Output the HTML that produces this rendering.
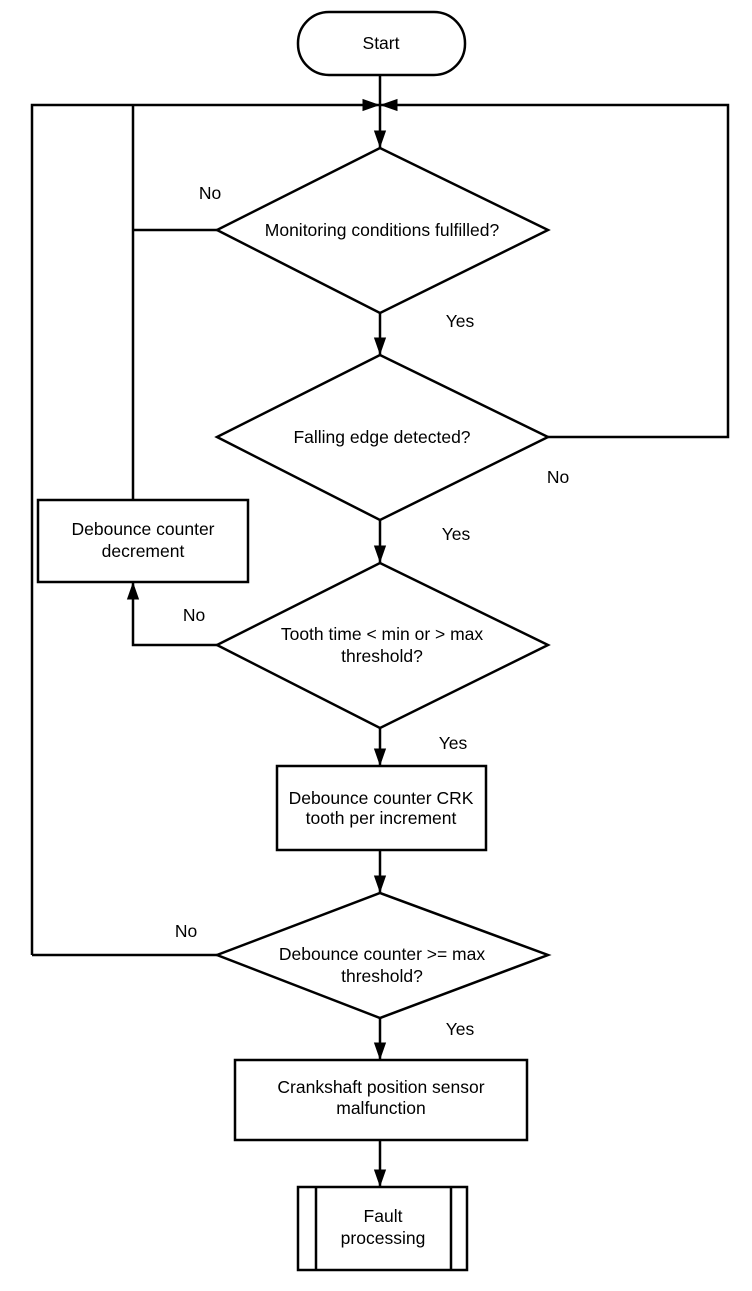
<!DOCTYPE html>
<html><head><style>body{margin:0;background:#fff}</style></head><body>
<svg width="752" height="1286" xmlns="http://www.w3.org/2000/svg" font-family="Liberation Sans, Arial, sans-serif" font-size="17.5">
<defs>
<marker id="b" viewBox="0 0 10 10" refX="10" refY="5" markerWidth="7" markerHeight="10" orient="auto" markerUnits="strokeWidth"><path d="M0,1.5L10,5L0,8.5z" fill="#000"/></marker></defs>
<g stroke="#000" stroke-width="2.5" fill="none">
<rect x="298" y="12" width="167" height="63" rx="31" fill="#fff"/>
<line x1="380" y1="75" x2="380" y2="148" marker-end="url(#b)"/>
<polyline points="32,955 32,105 380,105" marker-end="url(#b)"/>
<polyline points="548,437 728,437 728,105 380,105" marker-end="url(#b)"/>
<polyline points="217,230 133,230"/>
<line x1="133" y1="105" x2="133" y2="500"/>
<polygon points="380,148 548,230 380,313 217,230"/>
<line x1="380" y1="313" x2="380" y2="355" marker-end="url(#b)"/>
<polygon points="380,355 548,437 380,520 217,437"/>
<line x1="380" y1="520" x2="380" y2="563" marker-end="url(#b)"/>
<rect x="38" y="500" width="210" height="82"/>
<polygon points="380,563 548,645 380,728 217,645"/>
<polyline points="217,645 133,645 133,582" marker-end="url(#b)"/>
<line x1="380" y1="728" x2="380" y2="766" marker-end="url(#b)"/>
<rect x="277" y="766" width="209" height="84"/>
<line x1="380" y1="850" x2="380" y2="893" marker-end="url(#b)"/>
<polygon points="380,893 548,955 380,1018 217,955"/>
<line x1="217" y1="955" x2="32" y2="955"/>
<line x1="380" y1="1018" x2="380" y2="1060" marker-end="url(#b)"/>
<rect x="235" y="1060" width="292" height="80"/>
<line x1="380" y1="1140" x2="380" y2="1187" marker-end="url(#b)"/>
<rect x="298" y="1187" width="169" height="83"/>
<line x1="316" y1="1187" x2="316" y2="1270"/>
<line x1="451" y1="1187" x2="451" y2="1270"/>
</g>
<g text-anchor="middle" fill="#000">
<text x="381" y="49">Start</text>
<text x="382" y="236">Monitoring conditions fulfilled?</text>
<text x="382" y="443">Falling edge detected?</text>
<text x="382" y="640">Tooth time &lt; min or &gt; max</text>
<text x="382" y="662">threshold?</text>
<text x="381" y="804">Debounce counter CRK</text>
<text x="381" y="824">tooth per increment</text>
<text x="382" y="960">Debounce counter &gt;= max</text>
<text x="382" y="982">threshold?</text>
<text x="381" y="1093">Crankshaft position sensor</text>
<text x="381" y="1114">malfunction</text>
<text x="383" y="1222">Fault</text>
<text x="383" y="1244">processing</text>
<text x="143" y="535">Debounce counter</text>
<text x="143" y="557">decrement</text>
<text x="210" y="199">No</text><text x="460" y="327">Yes</text>
<text x="558" y="483">No</text><text x="456" y="540">Yes</text>
<text x="194" y="621">No</text><text x="453" y="749">Yes</text>
<text x="186" y="937">No</text><text x="460" y="1035">Yes</text>
</g></svg></body></html>
